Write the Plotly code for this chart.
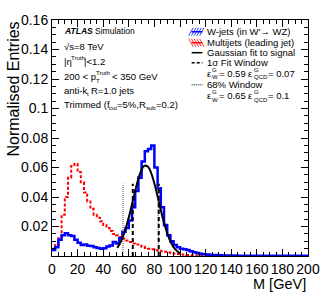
import numpy as np
import plotly.graph_objects as go

# ---------------- data ----------------
bin_width = 2.5
bin_lo, bin_hi = 0.0, 200.0

wjets = [0.004, 0.006, 0.011, 0.014, 0.0155, 0.014, 0.0135, 0.011, 0.009, 0.0075,
         0.0078, 0.007, 0.0068, 0.006, 0.0055, 0.005, 0.0052, 0.0065, 0.0072, 0.0095,
         0.0085, 0.012, 0.0165, 0.019, 0.024, 0.033, 0.044, 0.053, 0.064, 0.071,
         0.0725, 0.075, 0.060, 0.046, 0.033, 0.021, 0.014, 0.010, 0.0075, 0.006,
         0.005, 0.0045, 0.004, 0.0032, 0.0026, 0.002, 0.0016, 0.0012, 0.001, 0.0008,
         0.0007, 0.0006, 0.0005, 0.0004, 0.0004, 0.0003, 0.0003, 0.0003, 0.0002, 0.0002,
         0.0002, 0.0002, 0.0002, 0.0001, 0.0001, 0.0001, 0.0001, 0.0001, 0.0001, 0.0001,
         0.0001, 0.0001, 0.0001, 0.0001, 0.0001, 0.0001, 0.0001, 0.0001, 0.0001, 0.0001]

multijets = [0.005, 0.0075, 0.012, 0.028, 0.040, 0.053, 0.061, 0.0625, 0.057, 0.050,
             0.043, 0.037, 0.032, 0.028, 0.026, 0.0235, 0.021, 0.019, 0.017, 0.015,
             0.014, 0.0128, 0.0118, 0.0105, 0.0095, 0.0085, 0.0078, 0.007, 0.0062, 0.0055,
             0.005, 0.0045, 0.004, 0.0036, 0.0032, 0.0028, 0.0024, 0.002, 0.0016, 0.0013,
             0.0011, 0.0009, 0.0007, 0.0005, 0.0004, 0.0003, 0.0002, 0.0002, 0.0001, 0.0001,
             0.0001, 0.0001, 0.0, 0.0, 0.0, 0.0, 0.0, 0.0, 0.0, 0.0,
             0.0, 0.0, 0.0, 0.0, 0.0, 0.0, 0.0, 0.0, 0.0, 0.0,
             0.0, 0.0, 0.0, 0.0, 0.0, 0.0, 0.0, 0.0, 0.0, 0.0]

fit_mass = [51, 54, 57, 60, 63, 66, 69, 72, 75, 78, 81, 84, 87, 90, 93, 96, 100]
fit_vals = [0.0055, 0.0101, 0.0170, 0.0262, 0.0369, 0.0477, 0.0564, 0.0611, 0.0605,
            0.0549, 0.0457, 0.0347, 0.0242, 0.0154, 0.0090, 0.0048, 0.0018]

sigma_window = [63.1, 83.4]
window68 = [55.5, 83.0]
window_height = 0.049

y_tick_vals = [0, 0.02, 0.04, 0.06, 0.08, 0.10, 0.12, 0.14, 0.16]
y_tick_text = ["", "0.02", "0.04", "0.06", "0.08", "0.1", "0.12", "0.14", "0.16"]
x_tick_vals = [0, 20, 40, 60, 80, 100, 120, 140, 160, 180, 200]

# ---------------- layout geometry (pixels) ----------------
W, H = 332, 305
L, R, T, B = 52, 315, 15, 256    # plot area
FONT = "Liberation Sans, Arial, sans-serif"


def xp(px):
    return (px - L) / (R - L)


def yp(py):
    return (B - py) / (B - T)


edges = np.arange(bin_lo, bin_hi + bin_width / 2, bin_width)


def step(vals):
    return list(edges), list(vals) + [vals[-1]]


fig = go.Figure()

sx, sy = step(multijets)
fig.add_trace(go.Scatter(x=sx, y=sy, mode="lines", line_shape="hv",
                         line=dict(color="rgb(255,0,0)", width=2, dash="3px,2px"),
                         showlegend=False, hoverinfo="skip"))
sx, sy = step(wjets)
fig.add_trace(go.Scatter(x=sx, y=sy, mode="lines", line_shape="hv",
                         line=dict(color="rgb(0,0,255)", width=2.5),
                         showlegend=False, hoverinfo="skip"))
fig.add_trace(go.Scatter(x=fit_mass, y=fit_vals, mode="lines", line_shape="spline",
                         line=dict(color="black", width=2),
                         showlegend=False, hoverinfo="skip"))
for e in window68:
    fig.add_trace(go.Scatter(x=[e, e], y=[0, window_height], mode="lines",
                             line=dict(color="rgb(80,80,80)", width=1, dash="1px,1px"),
                             showlegend=False, hoverinfo="skip"))
for e in sigma_window:
    fig.add_trace(go.Scatter(x=[e, e], y=[0, window_height], mode="lines",
                             line=dict(color="black", width=2, dash="4px,3px"),
                             showlegend=False, hoverinfo="skip"))

shapes = []
annotations = []


def text(px, py, s, size=9.5, anchor="left", **kw):
    annotations.append(dict(xref="paper", yref="paper", x=xp(px), y=yp(py), text=s,
                            showarrow=False, xanchor=anchor, yanchor="middle", borderpad=0,
                            font=dict(family=FONT, size=size, color="black"), **kw))


def pline(x0, y0, x1, y1, color, width=1, dash="solid"):
    shapes.append(dict(type="line", xref="paper", yref="paper", x0=xp(x0), y0=yp(y0),
                       x1=xp(x1), y1=yp(y1), line=dict(color=color, width=width, dash=dash)))


SMALL = 6
# ---- ATLAS block ----
text(63, 26.7, "<b><i>ATLAS</i></b> Simulation", size=8.5)
text(63, 42.5, "√s=8 TeV")
text(63, 57.5, "|η")
text(70.7, 53.8, "Truth", size=SMALL)
text(83.5, 57.5, "|<1.2")
text(63, 72.7, "200 < p")
text(96, 68.8, "Truth", size=SMALL)
text(96, 77, "T", size=SMALL)
text(113, 72.7, "< 350 GeV")
text(63, 87.3, "anti-k")
text(86.6, 90.3, "t", size=SMALL)
text(91.0, 87.3, "R=1.0 jets")
text(63, 101.7, "Trimmed (f")
text(110.0, 104.7, "cut", size=SMALL)
text(118.2, 101.7, "=5%,R")
text(147.4, 104.7, "sub", size=SMALL)
text(157.4, 101.7, "=0.2)")

# ---- legend ----
rows = [27, 38.2, 48.4, 58.6, 70, 81.2, 92.5]
sym0, sym1, tx = 195.5, 206.5, 210
SUBOFF = 3.7


def hatch_box(yc, color, forward=True):
    y0, y1 = yc - 4, yc + 4
    for k in range(5):
        a = sym0 + k * 2.8
        if forward:
            pline(a - 3, y1, a + 1.5, y0, color, 0.8)
        else:
            pline(a - 3, y0, a + 1.5, y1, color, 0.8)
    pline(sym0, yc, sym1, yc, color, 1.5)


hatch_box(rows[0], "rgb(0,0,255)", True)
text(tx, rows[0], "W-jets (in W'→ WZ)")
hatch_box(rows[1], "rgb(255,0,0)", False)
text(tx, rows[1], "Multijets (leading jet)")
pline(sym0, rows[2], sym1, rows[2], "black", 1.5)
text(tx, rows[2], "Gaussian fit to signal")
pline(sym0, rows[3], sym1, rows[3], "black", 1.5, "3px,2px")
text(tx, rows[3], "1σ Fit Window")
pline(sym0, rows[5], sym1, rows[5], "black", 1, "1px,1px")
text(tx, rows[5], "68% Window")


def eff_row(yc, ew, eq):
    text(tx, yc, "ε")
    text(215.5, yc - SUBOFF, "G", size=SMALL)
    text(215.5, yc + SUBOFF, "W", size=SMALL)
    text(222.5, yc, "= " + ew)
    text(252.5, yc, "ε")
    text(258, yc - SUBOFF, "G", size=SMALL)
    text(258, yc + SUBOFF, "QCD", size=SMALL)
    text(273, yc, "= " + eq)


eff_row(rows[4], "0.59", "0.07")
eff_row(rows[6], "0.65", "0.1")

# ---- axis titles ----
annotations.append(dict(xref="paper", yref="paper", x=xp(315), y=yp(285), text="M [GeV]",
                        showarrow=False, xanchor="right", yanchor="middle",
                        font=dict(family=FONT, size=14.5, color="black")))
annotations.append(dict(xref="paper", yref="paper", x=xp(12), y=1.0, text="Normalised Entries",
                        showarrow=False, xanchor="center", yanchor="top", textangle=-90,
                        font=dict(family=FONT, size=16, color="black")))

axis_common = dict(showline=True, linecolor="black", linewidth=1, mirror="allticks",
                   ticks="inside", ticklen=7, tickcolor="black", tickwidth=1,
                   showgrid=False, zeroline=False,
                   tickfont=dict(family=FONT, size=14, color="black"))

fig.update_layout(
    width=W, height=H,
    margin=dict(l=L, r=W - R, t=T, b=H - B),
    paper_bgcolor="white", plot_bgcolor="white",
    showlegend=False,
    xaxis=dict(range=[0, 200], tickmode="array", tickvals=x_tick_vals,
               minor=dict(dtick=5, tick0=0, ticklen=4, ticks="inside", tickcolor="black"),
               **axis_common),
    yaxis=dict(range=[0, 0.16], tickmode="array", tickvals=y_tick_vals, ticktext=y_tick_text,
               minor=dict(dtick=0.005, tick0=0, ticklen=4, ticks="inside", tickcolor="black"),
               **axis_common),
    shapes=shapes,
    annotations=annotations,
)

fig.write_html("out.html", config={"displayModeBar": False},
               post_script="document.body.style.margin='0';document.body.style.overflow='hidden';")
